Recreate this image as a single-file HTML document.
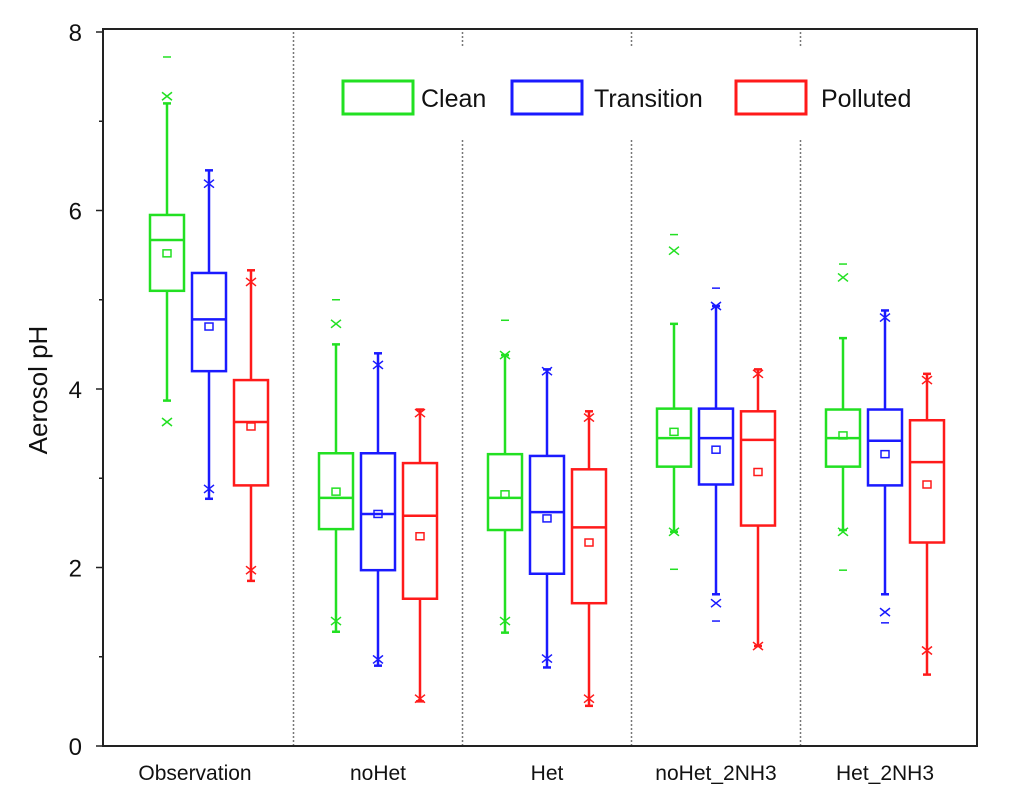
<!DOCTYPE html>
<html><head><meta charset="utf-8"><style>
body{margin:0;background:#fff}
svg text{font-family:"Liberation Sans",Arial,sans-serif;fill:#111}
</style></head><body>
<svg id="chart" width="1012" height="807"></svg>
<script>
const categories=["Observation","noHet","Het","noHet_2NH3","Het_2NH3"];
const seriesNames=["Clean","Transition","Polluted"];
const colors=["#22e022","#1a1aff","#ff1a1a"];
// [q1,median,q3,mean,whiskerLow,whiskerHigh,xLow,xHigh,dashLow,dashHigh] per category per series
const cleanStats=[
[5.10,5.67,5.95,5.52,3.87,7.20,3.63,7.28,null,7.72],
[2.43,2.78,3.28,2.85,1.28,4.50,1.40,4.73,null,5.00],
[2.42,2.78,3.27,2.82,1.27,4.38,1.40,4.38,null,4.77],
[3.13,3.45,3.78,3.52,2.40,4.73,2.40,5.55,1.98,5.73],
[3.13,3.45,3.77,3.48,2.42,4.57,2.40,5.25,1.97,5.40]];
const transitionStats=[
[4.20,4.78,5.30,4.70,2.77,6.45,2.88,6.30,null,null],
[1.97,2.60,3.28,2.60,0.90,4.40,0.97,4.27,null,null],
[1.93,2.62,3.25,2.55,0.88,4.22,0.98,4.20,null,null],
[2.93,3.45,3.78,3.32,1.70,4.93,1.60,4.93,1.40,5.13],
[2.92,3.42,3.77,3.27,1.70,4.88,1.50,4.80,1.38,null]];
const pollutedStats=[
[2.92,3.63,4.10,3.58,1.85,5.33,1.97,5.20,null,null],
[1.65,2.58,3.17,2.35,0.50,3.77,0.53,3.73,null,null],
[1.60,2.45,3.10,2.28,0.45,3.75,0.53,3.68,null,null],
[2.47,3.43,3.75,3.07,1.12,4.22,1.12,4.17,null,null],
[2.28,3.18,3.65,2.93,0.80,4.17,1.07,4.10,null,null]];
const yTicks=[0,2,4,6,8];
const allStats=[cleanStats,transitionStats,pollutedStats];

const NS="http://www.w3.org/2000/svg";
const svg=document.getElementById('chart');
const X0=103,X1=977,Y0=746,Y1=32;
function yS(v){return Y0-(v/8)*(Y0-Y1);}
function xS(ci,si){return 209+ci*169+(si-1)*42;}
function el(tag,attrs,parent){const e=document.createElementNS(NS,tag);for(const k in attrs)e.setAttribute(k,attrs[k]);(parent||svg).appendChild(e);return e;}

[0,1,2,3].forEach(i=>{
 const x=(xS(i,1)+xS(i+1,1))/2;
 const l=el('line',{x1:x,x2:x,y1:Y1,y2:Y0,stroke:'#777','stroke-width':1.5,'stroke-dasharray':'2,2'});
 
 
});
const lb=el('rect',{x:300,y:48,width:640,height:90,fill:'#fff'});



allStats.forEach((stats,si)=>{
 stats.forEach((d,ci)=>{
  const g=el('g',{stroke:colors[si],fill:'none','stroke-width':2.5});
  
  
  const cx=xS(ci,si),w=34;
  el('line',{x1:cx,x2:cx,y1:yS(d[2]),y2:yS(d[5])},g);
  el('line',{x1:cx,x2:cx,y1:yS(d[0]),y2:yS(d[4])},g);
  el('line',{x1:cx-4,x2:cx+4,y1:yS(d[5]),y2:yS(d[5])},g);
  el('line',{x1:cx-4,x2:cx+4,y1:yS(d[4]),y2:yS(d[4])},g);
  el('rect',{x:cx-w/2,y:yS(d[2]),width:w,height:yS(d[0])-yS(d[2])},g);
  el('line',{x1:cx-w/2,x2:cx+w/2,y1:yS(d[1]),y2:yS(d[1])},g);
  el('rect',{x:cx-4,y:yS(d[3])-3.5,width:8,height:7,'stroke-width':1.5},g);
  [d[6],d[7]].forEach(v=>{if(v==null)return;const y=yS(v);
   el('path',{d:`M${cx-5} ${y-4}L${cx+5} ${y+4}M${cx-5} ${y+4}L${cx+5} ${y-4}`,'stroke-width':1.5},g);});
  [d[8],d[9]].forEach(v=>{if(v==null)return;const y=yS(v);
   el('line',{x1:cx-4,x2:cx+4,y1:y,y2:y,'stroke-width':1.5},g);});
 });
});

const fr=el('rect',{x:X0,y:Y1-3,width:X1-X0,height:Y0-Y1+3,fill:'none',stroke:'#222','stroke-width':2});


for(let v=0;v<=8;v++){
 const y=yS(v);
 el('line',{x1:X0,x2:X0-(v%2==0?7:4),y1:y,y2:y,stroke:'#222','stroke-width':1.5});
}
yTicks.forEach(v=>{
 const t=el('text',{x:82,y:yS(v)+9,'text-anchor':'end','font-size':24});
 t.textContent=v;
 
 
});
categories.forEach((c,ci)=>{
 const x=ci==0?195:xS(ci,1);
 const t=el('text',{x:x,y:780,'text-anchor':'middle','font-size':21});
 t.textContent=c;
 
 
});
const yt=el('text',{x:0,y:0,'text-anchor':'middle','font-size':26,transform:'translate(47,390) rotate(-90)'});
yt.textContent='Aerosol pH';



const legX=[343,512,736],legT=[421,594,821];
seriesNames.forEach((n,i)=>{
 const g=el('g',{});
 
 
 el('rect',{x:legX[i],y:81,width:70,height:33,fill:'none',stroke:colors[i],'stroke-width':3},g);
 const t=el('text',{x:legT[i],y:107,'font-size':25},g);
 t.textContent=n;
});
</script>
</body></html>
